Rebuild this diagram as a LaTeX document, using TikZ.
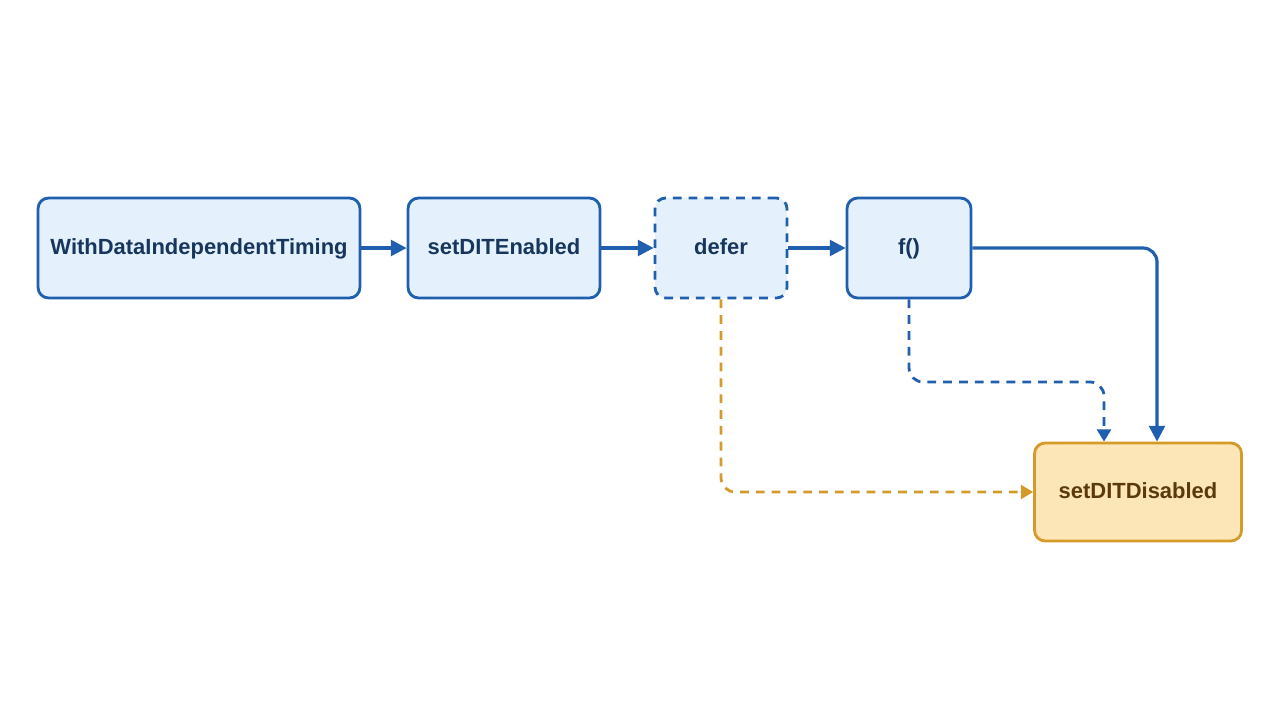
\documentclass[tikz,border=0pt]{standalone}
\usepackage{fontspec}
\setmainfont{Liberation Sans}
\usetikzlibrary{arrows.meta}
\definecolor{flowBlue}{HTML}{1F5FAD}
\definecolor{boxBlue}{HTML}{E4F1FC}
\definecolor{textBlue}{HTML}{17365D}
\definecolor{flowOrange}{HTML}{D49A2A}
\definecolor{boxOrange}{HTML}{FCE6B8}
\definecolor{textOrange}{HTML}{5A3A0A}
\begin{document}
\begin{tikzpicture}[
    x=0.02cm, y=-0.02cm,
    % box styles
    step_box/.style={draw=flowBlue, fill=boxBlue, line width=1.6pt, rounded corners=6pt,
        minimum height=2cm, text=textBlue, font=\bfseries\fontsize{12.5}{15}\selectfont, inner sep=0,
        text height=9pt, text depth=2pt},
    end_box/.style={step_box, draw=flowOrange, fill=boxOrange, text=textOrange, minimum height=1.96cm},
    flow/.style={draw=flowBlue, line width=1.8pt, -{Triangle[length=9pt,width=9pt]}},
    dash_flow/.style={flow, line width=1.6pt, dashed, dash pattern=on 5pt off 4pt, rounded corners=8pt, -{Triangle[length=7pt,width=8pt]}}
]
    \useasboundingbox (0,0) rectangle (1280,720);

    % --- 节点 ---
    \node[step_box, minimum width=6.44cm] (wdit) at (199,248) {WithDataIndependentTiming};
    \node[step_box, minimum width=3.84cm] (enable) at (504,248) {setDITEnabled};
    \node[step_box, dashed, dash pattern=on 5pt off 4pt, minimum width=2.64cm] (defer) at (721,248) {defer};
    \node[step_box, minimum width=2.48cm] (fcall) at (909,248) {f()};
    \node[end_box, minimum width=4.14cm] (disable) at (1138,492) {setDITDisabled};

    % --- 连线 ---
    \draw[flow] (wdit) -- (enable);
    \draw[flow] (enable) -- (defer);
    \draw[flow] (defer) -- (fcall);
    \draw[flow, rounded corners=8pt] (fcall.east) -- (1157,248) -- (1157,248 |- disable.north);
    \draw[dash_flow] (fcall.south) -- (909,382) -- (1104,382) -- (1104,248 |- disable.north);
    \draw[dash_flow, draw=flowOrange] (defer.south) -- (721,492) -- (disable.west);
\end{tikzpicture}
\end{document}
